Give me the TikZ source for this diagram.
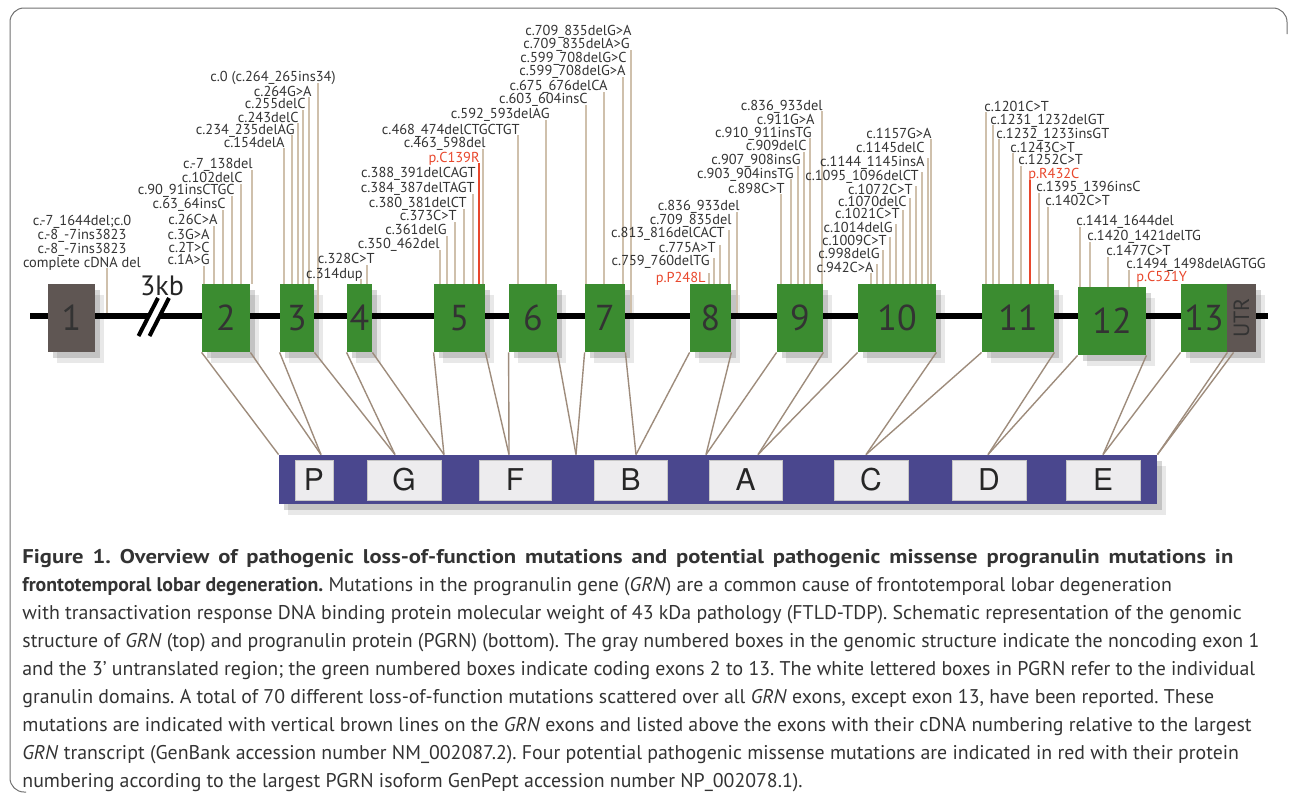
\documentclass[tikz,border=0pt]{standalone}
\usepackage{fontspec}
\setmainfont{PT Sans}
\newfontfamily\domainfont{TeX Gyre Heros}
\usepackage{xcolor}
\usetikzlibrary{positioning,shadows}

\definecolor{exongreen}{HTML}{3B8C30}
\definecolor{ncgray}{HTML}{5F5653}
\definecolor{pgrnblue}{HTML}{4A478E}
\definecolor{granwhite}{HTML}{EDECEE}
\definecolor{mutbrown}{HTML}{CFC0AC}
\definecolor{linkbrown}{HTML}{9E8C7C}
\definecolor{misred}{HTML}{E8472C}
\definecolor{textgray}{HTML}{333333}
\definecolor{framegray}{HTML}{707070}

\begin{document}
\begin{tikzpicture}[x=0.5pt, y=-0.5pt,
    shade box/.style={drop shadow={shadow xshift=2.5pt, shadow yshift=-3pt, opacity=0.16, fill=black},
                      drop shadow={shadow xshift=4.5pt, shadow yshift=-5.5pt, opacity=0.09, fill=black}},
    exon/.style={fill=exongreen, inner sep=0pt, minimum height=34pt, text=black!80,
                 font=\fontsize{18}{18}\selectfont, shade box},
    noncoding/.style={exon, fill=ncgray},
    granulin/.style={fill=granwhite, draw=gray!45, line width=0.4pt, inner sep=0pt, minimum height=20pt,
                     font=\domainfont\fontsize{15}{15}\selectfont, text=black!85},
    lbl/.style={inner sep=0pt, text=textgray, font=\fontsize{7.2}{7}\selectfont},
    redlbl/.style={lbl, text=misred},
    mutln/.style={draw=mutbrown, line width=1pt},
    redln/.style={draw=misred, line width=1pt},
    link/.style={draw=linkbrown, line width=0.7pt}]
\useasboundingbox (0,0) rectangle (1290,803);

% Frame
\draw[framegray, line width=0.5pt, rounded corners=7pt] (26,792) -- (10,792) -- (10,8) -- (1287,8) -- (1287,34);

% Genomic structure
\coordinate (gstart) at (30,316);
\coordinate (gend) at (1268,316);
\draw[line width=3pt] (gstart) -- (gend);
\draw[white, line width=3.5pt] (144,336) -- (163.5,298);
\draw[line width=2pt] (138.5,336) -- (158,298) (149.5,336) -- (169,298);
\node[inner sep=0pt, font=\fontsize{14}{14}\selectfont, text=black!85] (gap) at (162,286) {3kb};

% Exons
\node[noncoding, minimum width=23.5pt] (ex1) at (71.5,318) {1};
\foreach \n/\xl/\xr in {2/202/250, 3/280/314, 4/347/372, 5/434/485, 6/509/557, 7/585/625,
                        8/690/731, 9/777/823, 10/858/936, 11/982/1054, 13/1181/1227}
  \node[exon, minimum width={(\xr-\xl)*0.5pt}] (ex\n) at ({(\xl+\xr)/2},318) {\n};
\node[exon, minimum width=34pt] (ex12) at (1112,321) {12};
\node[noncoding, minimum width=14.5pt] (utr) at (1241.5,318) {};
\node[rotate=90, inner sep=0pt, font=\fontsize{11}{11}\selectfont, text=black!80] (utrlbl) at (utr.center) {UTR};

% Exon 1
\node[lbl, align=center] (mut1) at (82,243) {c.-7\_1644del;c.0\\c.-8\_-7ins3823\\c.-8\_-7ins3823\\complete cDNA del};
\draw[mutln] (107,268) -- (107,313);

% Exon 2
\foreach \rx/\cy/\txt [count=\i] in {253/163/{c.-7\_138del}, 243/177/{c.102delC}, 235/189/{c.90\_91insCTGC},
    226/203/{c.63\_64insC}, 218/219/{c.26C>A}, 210/234/{c.3G>A}, 210/247/{c.2T>C}, 210/259/{c.1A>G}}
  \node[lbl, anchor=base east] (mut2-\i) at (\rx,\cy+5) {\txt};
\foreach \lx/\ty in {252/170, 241/184, 232/196, 223/210, 214/226, 204/266}
  \draw[mutln] (\lx,\ty) -- (\lx,\ty |- ex2.north);

% Exon 3
\foreach \rx/\cy/\txt [count=\i] in {336/76/{c.0 (c.264\_265ins34)}, 312/91/{c.264G>A}, 306/103/{c.255delC},
    299/117/{c.243delC}, 295/129/{c.234\_235delAG}, 285/142/{c.154delA}}
  \node[lbl, anchor=base east] (mut3-\i) at (\rx,\cy+5) {\txt};
\foreach \lx/\ty in {309/97, 303/110, 298/123, 292/135, 284/148}
  \draw[mutln] (\lx,\ty) -- (\lx,\ty |- ex3.north);
\draw[mutln] (318,83) -- (318,313);

% Exon 4
\foreach \rx/\cy/\txt [count=\i] in {375/258/{c.328C>T}, 363/273/{c.314dup}}
  \node[lbl, anchor=base east] (mut4-\i) at (\rx,\cy+5) {\txt};
\foreach \lx/\ty in {367/265, 361/279}
  \draw[mutln] (\lx,\ty) -- (\lx,\ty |- ex4.north);

% Exon 5
\foreach \rx/\cy/\txt [count=\i] in {486/142/{c.463\_598del}, 476/172/{c.388\_391delCAGT}, 475/187/{c.384\_387delTAGT},
    467/202/{c.380\_381delCT}, 457/215/{c.373C>T}, 447/229/{c.361delG}, 440/243/{c.350\_462del}}
  \node[lbl, anchor=base east] (mut5-\i) at (\rx,\cy+5) {\txt};
\node[redlbl, anchor=base east] (mis1) at (480,162) {p.C139R};
\foreach \lx/\ty in {483/149, 473/194, 464/209, 455/222, 447/236, 440/250}
  \draw[mutln] (\lx,\ty) -- (\lx,\ty |- ex5.north);
\draw[redln] (479,163) -- (479,163 |- ex5.north);

% Exon 6
\foreach \rx/\cy/\txt [count=\i] in {550/113/{c.592\_593delAG}, 520/129/{c.468\_474delCTGCTGT}}
  \node[lbl, anchor=base east] (mut6-\i) at (\rx,\cy+5) {\txt};
\foreach \lx/\ty in {546/120, 518/135}
  \draw[mutln] (\lx,\ty) -- (\lx,\ty |- ex6.north);

% Exon 7
\foreach \rx/\cy/\txt [count=\i] in {632/30/{c.709\_835delG>A}, 630/43/{c.709\_835delA>G}, 627/57/{c.599\_708delG>C},
    626/70/{c.599\_708delG>A}, 608/85/{c.675\_676delCA}, 588/98/{c.603\_604insC}}
  \node[lbl, anchor=base east] (mut7-\i) at (\rx,\cy+5) {\txt};
\foreach \lx/\ty in {623/77, 604/92, 586/105}
  \draw[mutln] (\lx,\ty) -- (\lx,\ty |- ex7.north);
\draw[mutln] (631,50) -- (631,313);

% Exon 8
\foreach \rx/\cy/\txt [count=\i] in {740/205/{c.836\_933del}, 732/219/{c.709\_835del}, 725/232/{c.813\_816delCACT},
    716/247/{c.775A>T}, 710/260/{c.759\_760delTG}}
  \node[lbl, anchor=base east] (mut8-\i) at (\rx,\cy+5) {\txt};
\node[redlbl, anchor=base east] (mis2) at (706,282) {p.P248L};
\foreach \lx/\ty in {729/230, 720/245, 714/258, 709/273}
  \draw[mutln] (\lx,\ty) -- (\lx,\ty |- ex8.north);
\draw[mutln] (737,212) -- (737,313);

% Exon 9
\foreach \rx/\cy/\txt [count=\i] in {823/105/{c.836\_933del}, 815/119/{c.911G>A}, 812/132/{c.910\_911insTG},
    807/145/{c.909delC}, 801/159/{c.907\_908insG}, 794/173/{c.903\_904insTG}, 785/188/{c.898C>T}}
  \node[lbl, anchor=base east] (mut9-\i) at (\rx,\cy+5) {\txt};
\foreach \lx/\ty in {822/111, 810/138, 804/152, 798/166, 791/179, 781/194}
  \draw[mutln] (\lx,\ty) -- (\lx,\ty |- ex9.north);

% Exon 10
\foreach \rx/\cy/\txt [count=\i] in {932/133/{c.1157G>A}, 925/147/{c.1145delC}, 925/161/{c.1144\_1145insA},
    919/175/{c.1095\_1096delCT}, 913/189/{c.1072C>T}, 907/201/{c.1070delC}, 900/213/{c.1021C>T},
    893/227/{c.1014delG}, 887/240/{c.1009C>T}, 880/253/{c.998delG}, 874/267/{c.942C>A}}
  \node[lbl, anchor=base east] (mut10-\i) at (\rx,\cy+5) {\txt};
\foreach \lx/\ty in {931/139, 928/158, 922/172, 916/186, 910/198, 903/210, 896/224, 890/237, 883/250, 877/264, 871/273}
  \draw[mutln] (\lx,\ty) -- (\lx,\ty |- ex10.north);

% Exon 11
\foreach \lx/\cy/\txt [count=\i] in {984/106/{c.1201C>T}, 990/119/{c.1231\_1232delGT}, 996/133/{c.1232\_1233insGT},
    1010/147/{c.1243C>T}, 1018/159/{c.1252C>T}, 1036/186/{c.1395\_1396insC}, 1045/200/{c.1402C>T}}
  \node[lbl, anchor=base west] (mut11-\i) at (\lx,\cy+5) {\txt};
\node[redlbl, anchor=base west] (mis3) at (1028,178) {p.R432C};
\foreach \lx/\ty in {986/112, 993/125, 999/139, 1013/153, 1021/166, 1039/193, 1048/207}
  \draw[mutln] (\lx,\ty) -- (\lx,\ty |- ex11.north);
\draw[redln] (1030,180) -- (1030,180 |- ex11.north);

% Exon 12
\foreach \lx/\cy/\txt [count=\i] in {1076/220/{c.1414\_1644del}, 1087/235/{c.1420\_1421delTG},
    1106/250/{c.1477C>T}, 1126/263/{c.1494\_1498delAGTGG}}
  \node[lbl, anchor=base west] (mut12-\i) at (\lx,\cy+5) {\txt};
\node[redlbl, anchor=base west] (mis4) at (1136,281) {p.C521Y};
\foreach \lx/\ty in {1080/227, 1090/242, 1108/257, 1129/270, 1138/282}
  \draw[mutln] (\lx,\ty) -- (\lx,\ty |- ex12.north);

% Protein
\node[fill=pgrnblue, inner sep=0pt, minimum width=439pt, minimum height=24.5pt, shade box] (pgrn) at (718,479.5) {};
\foreach \d/\xl/\xr in {P/295/333, G/367/441, F/479/551, B/594/667, A/709/782, C/834/908, D/952/1026, E/1066/1140}
  \node[granulin, minimum width={(\xr-\xl)*0.5pt}] (gran\d) at ({(\xl+\xr)/2},480) {\d};

% Exon borders on the protein
\coordinate (j0) at (pgrn.north west);
\coordinate (j12) at (pgrn.north east);
\foreach \i/\x in {1/321, 2/395, 3/444, 4/509, 5/576, 6/636, 7/706, 8/758, 9/866, 10/988, 11/1103}
  \coordinate (j\i) at (\x,0 |- pgrn.north);
\foreach \n [count=\b, remember=\b as \a (initially 0)] in {2,...,13}
  \draw[link] (ex\n.south west) -- (j\a) (ex\n.south east) -- (j\b);
\draw[link] ([xshift=3.5pt]utr.south west) -- (j12);

% Caption
\node[anchor=north west, inner sep=0pt, align=left, text=textgray, font=\fontsize{9.92}{14}\selectfont\frenchspacing] (caption) at (22,549)
{\makebox[605.5pt][s]{\textbf{\addfontfeatures{FakeStretch=1.14}Figure 1. Overview of pathogenic loss-of-function mutations and potential pathogenic missense progranulin mutations in}}\\
\textbf{frontotemporal lobar degeneration.} Mutations in the progranulin gene (\textit{GRN}) are a common cause of frontotemporal lobar degeneration\\
with transactivation response DNA binding protein molecular weight of 43 kDa pathology (FTLD-TDP). Schematic representation of the genomic\\
structure of \textit{GRN} (top) and progranulin protein (PGRN) (bottom). The gray numbered boxes in the genomic structure indicate the noncoding exon 1\\
and the 3’ untranslated region; the green numbered boxes indicate coding exons 2 to 13. The white lettered boxes in PGRN refer to the individual\\
granulin domains. A total of 70 different loss-of-function mutations scattered over all \textit{GRN} exons, except exon 13, have been reported. These\\
mutations are indicated with vertical brown lines on the \textit{GRN} exons and listed above the exons with their cDNA numbering relative to the largest\\
\textit{GRN} transcript (GenBank accession number NM\_002087.2). Four potential pathogenic missense mutations are indicated in red with their protein\\
numbering according to the largest PGRN isoform GenPept accession number NP\_002078.1).};
\end{tikzpicture}
\end{document}
